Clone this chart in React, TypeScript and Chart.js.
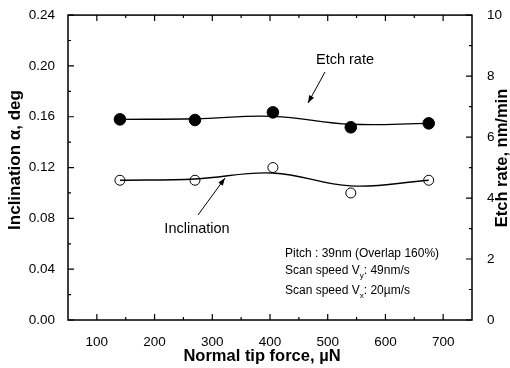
import React, { useEffect, useRef } from "react";
import { Chart, registerables } from "chart.js";
Chart.register(...registerables);

const forceX = [140, 270, 405, 540, 675];
const inclination = [0.11, 0.11, 0.12, 0.1, 0.11];
const etchRate = [6.58, 6.56, 6.81, 6.32, 6.45];
const inclinationFit = [0.11, 0.111, 0.1157, 0.1055, 0.11];
const etchRateFit = [6.58, 6.6, 6.68, 6.42, 6.45];
const xTicks = [100, 200, 300, 400, 500, 600, 700];
const xMinor = [150, 250, 350, 450, 550, 650];
const yTicks = [0, 0.04, 0.08, 0.12, 0.16, 0.2, 0.24];
const yMinor = [0.02, 0.06, 0.1, 0.14, 0.18, 0.22];
const y1Ticks = [0, 2, 4, 6, 8, 10];
const y1Minor = [1, 3, 5, 7, 9];

const FONT = "'Liberation Sans', Arial, sans-serif";

export default function App() {
  const ref = useRef<HTMLCanvasElement>(null);
  useEffect(() => {
    const canvas = ref.current!;
    const pts = (ys: number[]) => forceX.map((x, i) => ({ x, y: ys[i] }));

    const arrow = (ctx: CanvasRenderingContext2D, x1: number, y1: number, x2: number, y2: number) => {
      ctx.beginPath();
      ctx.moveTo(x1, y1);
      ctx.lineTo(x2, y2);
      ctx.stroke();
      const a = Math.atan2(y2 - y1, x2 - x1);
      const L = 8, w = 0.35;
      ctx.beginPath();
      ctx.moveTo(x2, y2);
      ctx.lineTo(x2 - L * Math.cos(a - w), y2 - L * Math.sin(a - w));
      ctx.lineTo(x2 - L * Math.cos(a + w), y2 - L * Math.sin(a + w));
      ctx.closePath();
      ctx.fill();
    };

    const framePlugin = {
      id: "frame",
      afterDraw(chart: any) {
        const ctx = chart.ctx as CanvasRenderingContext2D;
        const { left, right, top, bottom } = chart.chartArea;
        const sx = chart.scales.x, sy = chart.scales.y, sy1 = chart.scales.y1;
        ctx.save();
        ctx.strokeStyle = "#000";
        ctx.fillStyle = "#000";
        ctx.lineWidth = 1.5;
        ctx.strokeRect(left, top, right - left, bottom - top);
        ctx.lineWidth = 1.2;
        ctx.beginPath();
        const tick = (arr: number[], len: number) => {
          arr.forEach((v) => {
            const p = sx.getPixelForValue(v);
            ctx.moveTo(p, bottom); ctx.lineTo(p, bottom - len);
            ctx.moveTo(p, top); ctx.lineTo(p, top + len);
          });
        };
        tick(xTicks, 6);
        tick(xMinor, 3);
        yTicks.forEach((v) => { const p = sy.getPixelForValue(v); ctx.moveTo(left, p); ctx.lineTo(left + 6, p); });
        yMinor.forEach((v) => { const p = sy.getPixelForValue(v); ctx.moveTo(left, p); ctx.lineTo(left + 3, p); });
        y1Ticks.forEach((v) => { const p = sy1.getPixelForValue(v); ctx.moveTo(right, p); ctx.lineTo(right - 6, p); });
        y1Minor.forEach((v) => { const p = sy1.getPixelForValue(v); ctx.moveTo(right, p); ctx.lineTo(right - 3, p); });
        ctx.stroke();

        // axis titles
        ctx.textAlign = "center";
        ctx.textBaseline = "middle";
        ctx.font = `bold 16.5px ${FONT}`;
        ctx.fillText("Normal tip force, \u00b5N", 262, 356);
        ctx.save();
        ctx.translate(15, 160);
        ctx.rotate(-Math.PI / 2);
        ctx.font = `bold 17px ${FONT}`;
        ctx.fillText("Inclination \u03b1, deg", 0, 0);
        ctx.restore();
        ctx.save();
        ctx.translate(502, 158);
        ctx.rotate(-Math.PI / 2);
        ctx.font = `bold 16.5px ${FONT}`;
        ctx.fillText("Etch rate, nm/min", 0, 0);
        ctx.restore();

        // annotations
        ctx.font = `14.5px ${FONT}`;
        ctx.fillText("Etch rate", 345, 60);
        ctx.fillText("Inclination", 197, 229);
        ctx.lineWidth = 1;
        arrow(ctx, 325, 72, 308, 103);
        arrow(ctx, 198, 215, 225, 178);

        ctx.font = `12px ${FONT}`;
        ctx.textAlign = "left";
        ctx.fillText("Pitch : 39nm (Overlap 160%)", 285, 254);
        const sub = (y: number, s: string, rest: string) => {
          const base = "Scan speed V";
          ctx.font = `12px ${FONT}`;
          ctx.fillText(base, 285, y);
          const w = ctx.measureText(base).width;
          ctx.font = `8px ${FONT}`;
          ctx.fillText(s, 285 + w, y + 5);
          const ws = ctx.measureText(s).width;
          ctx.font = `12px ${FONT}`;
          ctx.fillText(rest, 285 + w + ws, y);
        };
        sub(271, "y", ": 49nm/s");
        sub(291, "x", ": 20\u00b5m/s");
        ctx.restore();
      },
    };

    const chart = new Chart(canvas, {
      type: "scatter",
      data: {
        datasets: [
          {
            data: pts(etchRateFit), yAxisID: "y1", showLine: true, tension: 0.4,
            borderColor: "#000", borderWidth: 1.3, pointRadius: 0,
          },
          {
            data: pts(inclinationFit), yAxisID: "y", showLine: true, tension: 0.4,
            borderColor: "#000", borderWidth: 1.3, pointRadius: 0,
          },
          {
            data: pts(etchRate), yAxisID: "y1", pointRadius: 5.8,
            backgroundColor: "#000", borderColor: "#000", borderWidth: 1,
          },
          {
            data: pts(inclination), yAxisID: "y", pointRadius: 5,
            backgroundColor: "#fff", borderColor: "#000", borderWidth: 1,
          },
        ],
      },
      options: {
        animation: false,
        responsive: false,
        layout: { padding: { top: 13 } },
        plugins: { legend: { display: false }, tooltip: { enabled: false } },
        scales: {
          x: {
            type: "linear", min: 50, max: 750,
            afterBuildTicks: (s: any) => { s.ticks = xTicks.map((v) => ({ value: v })); },
            afterFit: (s: any) => { s.height = 48; },
            grid: { display: false }, border: { display: false },
            ticks: { color: "#000", font: { family: FONT, size: 13.5 }, padding: 6 },
          },
          y: {
            position: "left", min: 0, max: 0.24,
            afterBuildTicks: (s: any) => { s.ticks = yTicks.map((v) => ({ value: v })); },
            afterFit: (s: any) => { s.width = 68; },
            grid: { display: false }, border: { display: false },
            ticks: { color: "#000", font: { family: FONT, size: 13.5 }, padding: 5, callback: (v: any) => Number(v).toFixed(2) },
          },
          y1: {
            position: "right", min: 0, max: 10,
            afterBuildTicks: (s: any) => { s.ticks = y1Ticks.map((v) => ({ value: v })); },
            afterFit: (s: any) => { s.width = 38; },
            grid: { display: false }, border: { display: false },
            ticks: { color: "#000", font: { family: FONT, size: 13.5 }, padding: 7 },
          },
        },
      },
      plugins: [framePlugin],
    } as any);
    return () => chart.destroy();
  }, []);

  return (
    <div style={{ position: "absolute", left: 0, top: 0, width: 510, height: 368, background: "#fff" }}>
      <canvas ref={ref} width={510} height={368} />
    </div>
  );
}
